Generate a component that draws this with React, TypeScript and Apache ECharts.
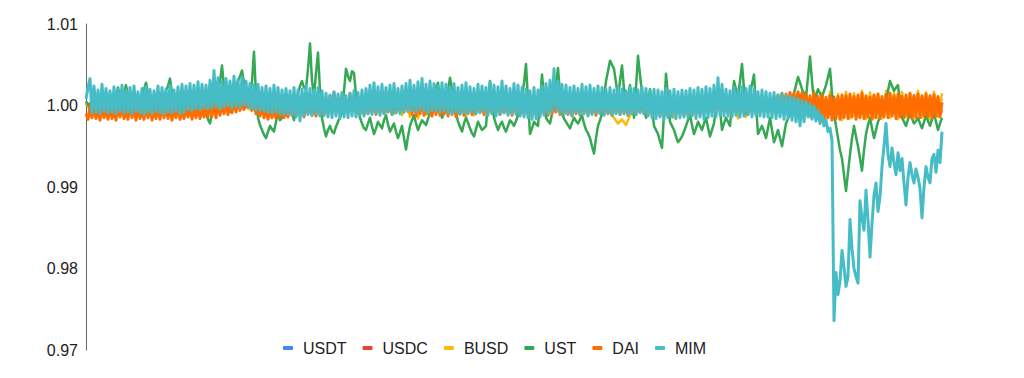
import React, { useEffect, useRef } from "react";
import * as echarts from "echarts";

const seriesNames = ["USDT", "USDC", "BUSD", "UST", "DAI", "MIM"];
const seriesColors = ["#4285F4", "#EA4335", "#FBBC04", "#34A853", "#FF6D01", "#46BDC6"];
const seriesWidths = [2, 2, 2.5, 2.5, 3, 3];
const yMin = 0.97;
const yMax = 1.01;
const yStep = 0.01;
// USDT, USDC and BUSD are sampled every 2nd observation; UST, DAI and MIM at every observation
const lastObservation = 428;
const coarseStep = 2;

const USDT = [
  1.0002,0.9998,1.0003,0.9997,1.0001,0.9999,1.0002,0.9998,1.0003,0.9999,
  1.0001,0.9997,1.0002,0.9998,1.0003,0.9999,1.0001,0.9997,1.0002,0.9998,
  1.0003,0.9998,1.0001,0.9997,1.0002,0.9999,1.0003,0.9998,1.0001,0.9997,
  1.0002,0.9998,1.0004,0.9999,1.0002,0.9997,1.0003,0.9998,1.0002,0.9999,
  1.0001,0.9998,1.0003,0.9997,1.0002,0.9999,1.0001,0.9998,1.0003,0.9997,
  1.0002,0.9999,1.0003,0.9998,1.0001,0.9997,1.0002,0.9998,1.0003,0.9999,
  1.0001,0.9998,1.0002,0.9997,1.0003,0.9999,1.0001,0.9998,1.0002,0.9997,
  1.0003,0.9998,1.0002,0.9999,1.0001,0.9997,1.0002,0.9998,1.0003,0.9999,
  1.0002,0.9998,1.0001,0.9997,1.0003,0.9999,1.0002,0.9998,1.0001,0.9997,
  1.0002,0.9999,1.0003,0.9998,1.0001,0.9997,1.0002,0.9998,1.0003,0.9999,
  1.0001,0.9998,1.0002,0.9997,1.0003,0.9999,1.0001,0.9998,1.0002,0.9997,
  1.0003,0.9998,1.0002,0.9999,1.0001,0.9997,1.0002,0.9998,1.0003,0.9999,
  1.0002,0.9998,1.0001,0.9997,1.0003,0.9999,1.0002,0.9998,1.0001,0.9997,
  1.0002,0.9999,1.0003,0.9998,1.0001,0.9997,1.0002,0.9998,1.0003,0.9999,
  1.0001,0.9998,1.0002,0.9997,1.0003,0.9999,1.0001,0.9998,1.0002,0.9997,
  1.0003,0.9998,1.0002,0.9999,1.0001,0.9997,1.0002,0.9998,1.0003,0.9999,
  1.0002,0.9998,1.0001,0.9997,1.0003,0.9999,1.0002,0.9998,1.0001,0.9997,
  1.0003,0.9998,1.0004,0.9997,1.0005,0.9998,1.0004,0.9996,1.0005,0.9997,
  1.0008,0.9994,1.0010,0.9992,1.0009,0.9993,1.0011,0.9991,1.0008,0.9994,
  1.0010,0.9992,1.0009,0.9993,1.0012,0.9991,1.0008,0.9994,1.0010,0.9992,
  1.0009,0.9993,1.0011,0.9992,1.0013,0.9991,1.0009,0.9993,1.0010,0.9992,
  1.0011,0.9993,1.0009,0.9994,1.0008,
];

const USDC = [
  0.9999,1.0003,0.9997,1.0002,0.9998,1.0004,0.9999,1.0002,0.9997,1.0003,
  0.9998,1.0002,0.9997,1.0003,0.9999,1.0002,0.9998,1.0004,0.9997,1.0002,
  0.9999,1.0003,0.9998,1.0002,0.9997,1.0003,0.9999,1.0002,0.9998,1.0004,
  0.9997,1.0002,0.9999,1.0003,0.9998,1.0002,0.9997,1.0003,0.9999,1.0002,
  0.9998,1.0004,0.9997,1.0002,0.9999,1.0003,0.9998,1.0002,0.9997,1.0003,
  0.9999,1.0002,0.9998,1.0004,0.9997,1.0002,0.9999,1.0003,0.9998,1.0002,
  0.9997,1.0003,0.9999,1.0002,0.9998,1.0004,0.9997,1.0002,0.9999,1.0003,
  0.9998,1.0002,0.9997,1.0003,0.9999,1.0002,0.9998,1.0004,0.9997,1.0002,
  0.9999,1.0003,0.9998,1.0002,0.9997,1.0003,0.9999,1.0002,0.9998,1.0004,
  0.9997,1.0002,0.9999,1.0003,0.9998,1.0002,0.9997,1.0003,0.9999,1.0002,
  0.9998,1.0004,0.9997,1.0002,0.9999,1.0003,0.9998,1.0002,0.9997,1.0003,
  0.9999,1.0002,0.9998,1.0004,0.9997,1.0002,0.9999,1.0003,0.9998,1.0002,
  0.9997,1.0003,0.9999,1.0002,0.9998,1.0004,0.9997,1.0002,0.9999,1.0003,
  0.9998,1.0002,0.9997,1.0003,0.9999,1.0002,0.9998,1.0004,0.9997,1.0002,
  0.9999,1.0003,0.9998,1.0002,0.9997,1.0003,0.9999,1.0002,0.9998,1.0004,
  0.9997,1.0002,0.9999,1.0003,0.9998,1.0002,0.9997,1.0003,0.9999,1.0002,
  0.9998,1.0004,0.9997,1.0002,0.9999,1.0003,0.9998,1.0002,0.9997,1.0003,
  0.9996,1.0004,0.9995,1.0005,0.9996,1.0006,0.9994,1.0005,0.9995,1.0007,
  0.9992,1.0010,0.9991,1.0012,0.9993,1.0009,0.9990,1.0011,0.9992,1.0010,
  0.9991,1.0012,0.9993,1.0010,0.9990,1.0011,0.9992,1.0013,0.9991,1.0009,
  0.9993,1.0011,0.9990,1.0012,0.9992,1.0010,0.9991,1.0013,0.9993,1.0011,
  0.9990,1.0012,0.9992,1.0010,0.9991,
];

const BUSD = [
  1.0004,0.9994,1.0006,0.9996,1.0003,0.9993,1.0005,0.9995,1.0002,0.9994,
  1.0005,0.9993,1.0004,0.9996,1.0006,0.9994,1.0003,0.9992,1.0005,0.9995,
  1.0003,0.9994,1.0006,0.9993,1.0004,0.9996,1.0005,0.9994,1.0002,0.9995,
  1.0012,0.9998,1.0005,0.9994,1.0004,0.9996,1.0006,0.9995,1.0003,0.9997,
  1.0005,0.9995,1.0004,0.9993,1.0006,0.9994,1.0003,0.9996,1.0005,0.9994,
  1.0004,0.9993,1.0006,0.9995,1.0003,0.9994,1.0005,0.9996,1.0004,0.9993,
  1.0006,0.9995,1.0004,0.9993,1.0005,0.9994,1.0003,0.9996,1.0006,0.9994,
  1.0004,0.9993,1.0005,0.9995,1.0003,0.9992,1.0004,0.9990,1.0002,0.9988,
  1.0003,0.9986,1.0002,0.9984,1.0004,0.9989,1.0005,0.9993,1.0004,0.9995,
  1.0005,0.9994,1.0003,0.9990,1.0004,0.9986,1.0002,0.9988,1.0005,0.9993,
  1.0004,0.9995,1.0006,0.9993,1.0003,0.9994,1.0005,0.9996,1.0004,0.9993,
  1.0006,0.9994,1.0004,0.9992,1.0005,0.9995,1.0003,0.9993,1.0006,0.9994,
  1.0004,0.9993,1.0005,0.9995,1.0003,0.9992,1.0004,0.9994,1.0006,0.9993,
  1.0003,0.9992,0.9985,0.9978,0.9983,0.9976,0.9988,0.9995,1.0004,0.9996,
  1.0005,0.9993,1.0004,0.9995,1.0003,0.9988,1.0002,0.9985,1.0004,0.9993,
  1.0005,0.9994,1.0003,0.9992,1.0006,0.9995,1.0004,0.9993,1.0005,0.9994,
  1.0004,0.9993,1.0006,0.9984,1.0003,0.9986,1.0005,0.9994,1.0004,0.9995,
  1.0006,0.9994,1.0008,0.9993,1.0010,0.9992,1.0012,0.9990,1.0014,0.9991,
  1.0016,0.9986,1.0018,0.9984,1.0015,0.9983,1.0017,0.9985,1.0014,0.9982,
  1.0017,0.9984,1.0015,0.9986,1.0018,0.9983,1.0016,0.9985,1.0014,0.9984,
  1.0018,0.9985,1.0016,0.9983,1.0017,0.9986,1.0015,0.9984,1.0018,0.9985,
  1.0016,0.9983,1.0017,0.9986,1.0015,
];

const UST = [
  1.0005,1.0001,0.9998,1.0006,1.0012,1.0002,0.9995,1.0004,1.0010,1.0001,0.9997,1.0008,1.0015,1.0005,0.9999,1.0012,1.0022,1.0010,1.0003,1.0014,
  1.0025,1.0012,1.0004,0.9999,1.0010,1.0003,0.9996,1.0005,1.0012,1.0020,1.0028,1.0014,1.0008,1.0001,0.9998,1.0007,1.0014,1.0006,1.0002,1.0010,
  1.0018,1.0024,1.0033,1.0015,1.0006,1.0001,0.9998,1.0008,1.0015,1.0009,1.0004,0.9999,0.9995,1.0004,1.0012,1.0006,1.0001,0.9996,0.9992,0.9988,
  0.9990,0.9983,0.9978,0.9990,1.0002,1.0012,1.0020,1.0030,1.0049,1.0022,1.0008,0.9998,0.9992,1.0004,1.0018,1.0024,1.0030,1.0036,1.0043,1.0028,
  1.0020,1.0014,1.0010,1.0030,1.0066,1.0012,0.9985,0.9976,0.9970,0.9964,0.9960,0.9968,0.9975,0.9971,0.9968,0.9980,0.9990,0.9982,0.9985,0.9992,
  0.9988,0.9997,1.0005,0.9992,0.9982,0.9998,1.0015,1.0024,1.0030,1.0022,1.0020,1.0045,1.0076,1.0030,1.0012,1.0040,1.0065,1.0018,0.9985,0.9972,
  0.9962,0.9970,0.9975,0.9968,0.9966,0.9974,0.9980,0.9986,0.9990,1.0018,1.0045,1.0036,1.0030,1.0042,1.0040,1.0012,0.9995,0.9985,0.9978,0.9972,
  0.9970,0.9978,0.9985,0.9974,0.9965,0.9972,0.9980,0.9976,0.9972,0.9982,0.9988,0.9977,0.9968,0.9973,0.9978,0.9968,0.9960,0.9967,0.9975,0.9960,
  0.9946,0.9962,0.9975,0.9982,0.9988,0.9978,0.9970,0.9976,0.9982,0.9979,0.9976,0.9984,0.9990,1.0002,1.0015,1.0022,1.0028,1.0005,0.9985,0.9990,
  0.9995,1.0018,1.0034,1.0020,1.0010,0.9992,0.9980,0.9974,0.9968,0.9978,0.9985,0.9979,0.9972,0.9966,0.9962,0.9971,0.9980,0.9975,0.9970,0.9972,
  0.9975,1.0005,1.0030,1.0008,0.9985,0.9977,0.9970,0.9976,0.9980,0.9973,0.9968,0.9975,0.9982,0.9979,0.9975,0.9981,0.9988,0.9998,1.0010,1.0028,
  1.0051,1.0005,0.9965,0.9972,0.9980,0.9977,0.9975,1.0005,1.0038,1.0010,0.9985,0.9981,0.9978,0.9990,1.0005,1.0025,1.0046,1.0015,0.9990,0.9984,
  0.9980,0.9976,0.9972,0.9979,0.9985,0.9981,0.9978,0.9983,0.9988,0.9978,0.9970,0.9966,0.9960,0.9950,0.9941,0.9960,0.9975,0.9982,0.9990,1.0010,
  1.0030,1.0042,1.0055,1.0050,1.0045,1.0028,1.0010,1.0030,1.0049,1.0020,0.9995,1.0010,1.0025,1.0004,0.9985,1.0022,1.0061,1.0038,1.0015,1.0000,
  0.9985,1.0002,1.0020,0.9998,0.9975,0.9970,0.9965,0.9956,0.9948,0.9990,1.0039,1.0010,0.9980,0.9975,0.9970,0.9962,0.9955,0.9958,0.9962,0.9968,
  0.9975,0.9982,0.9988,0.9976,0.9965,0.9972,0.9980,0.9975,0.9970,0.9978,0.9985,0.9973,0.9962,0.9970,0.9978,0.9998,1.0020,0.9995,0.9970,0.9978,
  0.9985,0.9980,0.9975,1.0002,1.0030,1.0020,1.0010,1.0030,1.0051,1.0020,0.9990,1.0002,1.0015,1.0026,1.0038,1.0000,0.9965,0.9970,0.9975,0.9968,
  0.9960,0.9972,0.9985,0.9970,0.9955,0.9962,0.9970,0.9960,0.9950,0.9964,0.9978,0.9984,0.9990,1.0002,1.0015,1.0025,1.0035,1.0028,1.0020,1.0015,
  1.0010,1.0035,1.0060,1.0030,1.0005,1.0012,1.0020,1.0015,1.0010,1.0018,1.0025,1.0035,1.0045,1.0015,0.9990,0.9975,0.9960,0.9945,0.9935,0.9915,
  0.9895,0.9918,0.9940,0.9960,0.9975,0.9962,0.9950,0.9935,0.9920,0.9945,0.9965,0.9976,0.9985,0.9972,0.9960,0.9970,0.9980,0.9986,0.9990,0.9998,
  1.0005,1.0018,1.0030,1.0024,1.0018,1.0022,1.0025,1.0004,0.9985,0.9980,0.9975,0.9983,0.9990,0.9984,0.9978,0.9981,0.9985,0.9978,0.9972,0.9980,
  0.9988,0.9981,0.9975,0.9983,0.9990,0.9980,0.9970,0.9978,0.9985,
];

const DAI = [
  0.9990,0.9983,0.9998,0.9985,1.0001,0.9984,0.9996,0.9982,0.9999,0.9985,0.9997,0.9983,1.0000,0.9984,0.9995,0.9982,0.9998,0.9986,1.0001,0.9984,
  0.9996,0.9983,1.0002,0.9985,0.9997,0.9982,1.0000,0.9984,0.9995,0.9983,0.9999,0.9985,1.0001,0.9982,0.9996,0.9984,0.9998,0.9983,1.0000,0.9985,
  0.9997,0.9984,1.0001,0.9982,0.9998,0.9985,1.0002,0.9983,0.9996,0.9984,0.9999,0.9986,1.0001,0.9983,0.9997,0.9985,1.0000,0.9984,0.9998,0.9986,
  1.0000,0.9986,1.0004,0.9987,1.0002,0.9985,1.0005,0.9988,1.0003,0.9990,1.0006,0.9989,1.0004,0.9991,1.0007,0.9992,1.0006,0.9994,1.0008,0.9995,
  1.0009,0.9997,1.0007,0.9994,1.0004,0.9990,1.0002,0.9987,1.0000,0.9985,0.9998,0.9983,1.0000,0.9985,0.9997,0.9984,0.9999,0.9986,1.0001,0.9985,
  0.9998,0.9986,1.0003,0.9988,1.0001,0.9987,1.0004,0.9989,1.0002,0.9986,1.0005,0.9990,1.0003,0.9988,1.0001,0.9987,1.0004,0.9989,1.0002,0.9988,
  1.0006,0.9990,1.0012,0.9992,1.0016,0.9993,1.0010,0.9991,1.0014,0.9994,1.0008,0.9992,1.0015,0.9993,1.0011,0.9991,1.0009,0.9990,1.0006,0.9989,
  1.0004,0.9990,1.0006,0.9992,1.0003,0.9989,1.0005,0.9991,1.0007,0.9990,1.0004,0.9992,1.0006,0.9989,1.0003,0.9991,1.0005,0.9993,1.0008,0.9992,
  1.0010,0.9993,1.0014,0.9989,1.0012,0.9987,1.0009,0.9990,1.0006,0.9988,1.0005,0.9990,1.0004,0.9987,1.0006,0.9989,1.0003,0.9988,1.0005,0.9990,
  1.0003,0.9987,1.0006,0.9989,1.0004,0.9986,1.0007,0.9990,1.0008,0.9988,1.0005,0.9991,1.0009,0.9989,1.0006,0.9990,1.0008,0.9992,1.0007,0.9989,
  1.0006,0.9991,1.0009,0.9990,1.0007,0.9992,1.0010,0.9989,1.0006,0.9991,1.0008,0.9990,1.0005,0.9988,1.0007,0.9991,1.0006,0.9989,1.0004,0.9990,
  1.0003,0.9988,1.0005,0.9987,1.0004,0.9990,1.0006,0.9989,1.0003,0.9991,1.0005,0.9988,1.0007,0.9990,1.0004,0.9992,1.0006,0.9989,1.0005,0.9990,
  1.0005,0.9989,1.0003,0.9987,1.0006,0.9990,1.0004,0.9988,1.0005,0.9991,1.0007,0.9989,1.0004,0.9990,1.0006,0.9988,1.0003,0.9991,1.0005,0.9989,
  1.0004,0.9990,1.0006,0.9988,1.0003,0.9991,1.0005,0.9989,1.0007,0.9990,1.0004,0.9988,1.0006,0.9991,1.0003,0.9989,1.0005,0.9992,1.0004,0.9990,
  1.0005,0.9988,1.0003,0.9990,1.0006,0.9989,1.0004,0.9987,1.0005,0.9990,1.0007,0.9988,1.0004,0.9991,1.0006,0.9989,1.0003,0.9990,1.0005,0.9988,
  1.0004,0.9990,1.0006,0.9988,1.0005,0.9991,1.0007,0.9989,1.0006,0.9992,1.0009,0.9990,1.0008,0.9993,1.0011,0.9991,1.0013,0.9994,1.0010,0.9992,
  1.0008,0.9991,1.0006,0.9989,1.0007,0.9992,1.0005,0.9990,1.0008,0.9991,1.0006,0.9989,1.0007,0.9992,1.0005,0.9990,1.0006,0.9991,1.0008,0.9993,
  1.0007,0.9993,1.0009,0.9994,1.0011,0.9995,1.0013,0.9996,1.0015,0.9997,1.0014,0.9998,1.0016,0.9999,1.0015,1.0000,1.0017,0.9998,1.0016,0.9996,
  1.0014,0.9992,1.0012,0.9988,1.0015,0.9986,1.0011,0.9984,1.0013,0.9983,1.0010,0.9985,1.0012,0.9982,1.0009,0.9984,1.0011,0.9983,1.0013,0.9985,
  1.0012,0.9984,1.0014,0.9986,1.0011,0.9983,1.0013,0.9985,1.0015,0.9984,1.0012,0.9986,1.0010,0.9983,1.0013,0.9985,1.0014,0.9984,1.0011,0.9986,
  1.0013,0.9985,1.0015,0.9987,1.0012,0.9984,1.0014,0.9986,1.0011,0.9985,1.0013,0.9987,1.0015,0.9984,1.0012,0.9986,1.0014,0.9985,1.0012,0.9987,
  1.0014,0.9986,1.0012,0.9985,1.0013,0.9987,1.0011,0.9986,1.0004,
];

const MIM = [
  1.0008,1.0022,1.0033,0.9991,1.0024,0.9992,1.0019,0.9990,1.0026,0.9993,1.0021,0.9991,1.0018,0.9992,1.0023,0.9990,1.0020,0.9993,1.0025,0.9991,
  1.0019,0.9992,1.0022,0.9990,1.0024,0.9993,1.0017,0.9991,1.0021,0.9989,1.0023,0.9992,1.0020,0.9990,1.0018,0.9993,1.0024,0.9991,1.0022,0.9990,
  1.0020,0.9992,1.0025,0.9991,1.0019,0.9993,1.0023,0.9990,1.0026,0.9992,1.0024,0.9995,1.0027,0.9994,1.0025,0.9996,1.0029,0.9995,1.0026,0.9997,
  1.0025,0.9996,1.0031,0.9997,1.0043,0.9999,1.0034,0.9996,1.0029,0.9998,1.0033,1.0000,1.0030,0.9997,1.0036,0.9999,1.0032,0.9998,1.0035,1.0001,
  1.0030,0.9998,1.0027,0.9996,1.0025,0.9995,1.0026,0.9994,1.0022,0.9993,1.0024,0.9992,1.0021,0.9991,1.0025,0.9992,1.0022,0.9990,1.0019,0.9989,
  1.0021,0.9990,1.0018,0.9988,1.0022,0.9986,1.0019,0.9981,1.0020,0.9987,1.0024,0.9989,1.0021,0.9988,1.0019,0.9990,1.0022,0.9987,1.0018,0.9988,
  1.0015,0.9986,1.0013,0.9985,1.0017,0.9987,1.0014,0.9984,1.0016,0.9986,1.0012,0.9985,1.0015,0.9987,1.0018,0.9986,1.0016,0.9988,1.0019,0.9987,
  1.0021,0.9990,1.0025,0.9989,1.0028,0.9991,1.0023,0.9988,1.0026,0.9990,1.0022,0.9992,1.0025,0.9989,1.0027,0.9991,1.0021,0.9990,1.0024,0.9992,
  1.0027,0.9993,1.0031,0.9994,1.0025,0.9992,1.0029,0.9995,1.0033,0.9993,1.0026,0.9991,1.0030,0.9994,1.0027,0.9993,1.0024,0.9992,1.0028,0.9994,
  1.0026,0.9991,1.0023,0.9990,1.0027,0.9992,1.0022,0.9989,1.0025,0.9991,1.0028,0.9990,1.0023,0.9992,1.0021,0.9990,1.0026,0.9991,1.0024,0.9993,
  1.0022,0.9988,1.0029,0.9990,1.0025,0.9987,1.0023,0.9989,1.0030,0.9991,1.0024,0.9988,1.0021,0.9990,1.0027,0.9989,1.0025,0.9987,1.0022,0.9986,
  1.0020,0.9985,1.0018,0.9983,1.0022,0.9984,1.0019,0.9986,1.0024,0.9988,1.0027,0.9990,1.0031,0.9992,1.0045,0.9995,1.0030,0.9991,1.0026,0.9989,
  1.0025,0.9990,1.0022,0.9988,1.0024,0.9991,1.0021,0.9989,1.0026,0.9990,1.0023,0.9987,1.0025,0.9989,1.0021,0.9991,1.0024,0.9990,1.0022,0.9988,
  1.0020,0.9991,1.0022,0.9988,1.0019,0.9990,1.0023,0.9989,1.0020,0.9991,1.0018,0.9988,1.0022,0.9990,1.0021,0.9989,1.0019,0.9991,1.0023,0.9990,
  1.0021,0.9987,1.0018,0.9985,1.0020,0.9984,1.0019,0.9986,1.0017,0.9983,1.0021,0.9985,1.0018,0.9986,1.0020,0.9984,1.0017,0.9985,1.0019,0.9986,
  1.0018,0.9985,1.0021,0.9987,1.0019,0.9984,1.0022,0.9986,1.0020,0.9983,1.0023,0.9985,1.0021,0.9987,1.0025,0.9986,1.0034,0.9988,1.0026,0.9987,
  1.0020,0.9987,1.0018,0.9986,1.0022,0.9988,1.0019,0.9986,1.0023,0.9987,1.0021,0.9989,1.0024,0.9986,1.0020,0.9988,1.0017,0.9987,1.0019,0.9986,
  1.0017,0.9986,1.0015,0.9985,1.0016,0.9984,1.0013,0.9986,1.0014,0.9983,1.0012,0.9984,1.0011,0.9982,1.0010,0.9980,1.0008,0.9975,1.0006,0.9980,
  1.0005,0.9986,1.0002,0.9983,0.9999,0.9981,0.9994,0.9978,0.9988,0.9975,0.9982,0.9968,0.9972,0.9957,0.9736,0.9795,0.9768,0.9785,0.9822,0.9802,
  0.9778,0.9790,0.9860,0.9825,0.9800,0.9790,0.9782,0.9883,0.9862,0.9847,0.9896,0.9860,0.9814,0.9855,0.9890,0.9905,0.9870,0.9888,0.9925,0.9950,
  0.9978,0.9940,0.9925,0.9948,0.9930,0.9915,0.9942,0.9920,0.9935,0.9905,0.9878,0.9912,0.9930,0.9915,0.9905,0.9922,0.9912,0.9898,0.9862,0.9900,
  0.9925,0.9912,0.9905,0.9935,0.9940,0.9918,0.9945,0.9930,0.9968,
];

export default function App() {
  const ref = useRef<HTMLDivElement>(null);
  useEffect(() => {
    if (!ref.current) return;
    const chart = echarts.init(ref.current, null, { renderer: "svg" });
    const values = [USDT, USDC, BUSD, UST, DAI, MIM];
    const steps = [coarseStep, coarseStep, coarseStep, 1, 1, 1];
    chart.setOption({
      animation: false,
      backgroundColor: "#ffffff",
      textStyle: { fontFamily: "'Liberation Sans', Arial, sans-serif" },
      grid: { left: 86, right: 82, top: 24, bottom: 28, containLabel: false },
      legend: {
        data: seriesNames,
        left: 283,
        top: 340,
        padding: 0,
        icon: "roundRect",
        itemWidth: 10,
        itemHeight: 4,
        itemGap: 16,
        textStyle: { color: "#222222", fontSize: 16, padding: [0, 0, 0, 5] },
      },
      xAxis: {
        type: "value",
        min: 0,
        max: lastObservation,
        show: false,
      },
      yAxis: {
        type: "value",
        min: yMin,
        max: yMax,
        interval: yStep,
        axisLine: { show: true, lineStyle: { color: "#666666", width: 1 } },
        axisTick: { show: false },
        splitLine: { show: false },
        axisLabel: {
          color: "#222222",
          fontSize: 16,
          margin: 8,
          formatter: (v: number) => v.toFixed(2),
        },
      },
      series: seriesNames.map((name, k) => ({
        name,
        type: "line",
        data: values[k].map((v, i) => [i * steps[k], v]),
        color: seriesColors[k],
        showSymbol: false,
        symbol: "none",
        lineStyle: { color: seriesColors[k], width: seriesWidths[k], join: "round" },
        itemStyle: { color: seriesColors[k] },
        z: 2 + k,
      })),
    });
    return () => chart.dispose();
  }, []);
  return (
    <div
      ref={ref}
      style={{ position: "fixed", left: 0, top: 0, width: 1024, height: 378 }}
    />
  );
}
